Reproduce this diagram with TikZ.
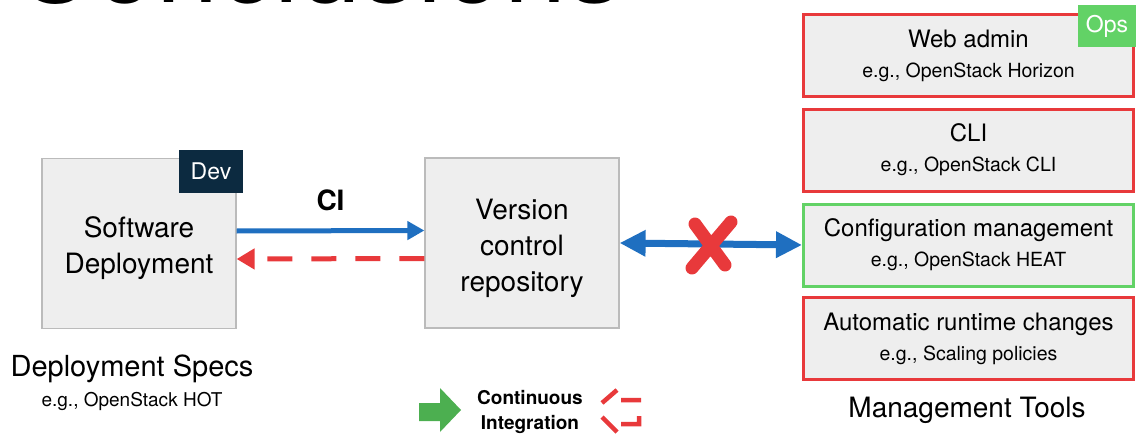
\documentclass[tikz,border=0pt]{standalone}
\usepackage{fontspec}
\setmainfont{TeX Gyre Heros}
\usetikzlibrary{arrows.meta,positioning}
\definecolor{boxgray}{HTML}{EEEEEE}
\definecolor{edgegray}{HTML}{BBBBBB}
\definecolor{arrowblue}{HTML}{1F6FC0}
\definecolor{markred}{HTML}{E8393B}
\definecolor{opsgreen}{HTML}{62D266}
\definecolor{devnavy}{HTML}{0C2A40}
\definecolor{legendgreen}{HTML}{4CAF50}
\newcommand\egline[1]{{\fontsize{19.5}{34}\selectfont e.g., #1}}

\begin{document}
\begin{tikzpicture}[x=1pt,y=-1pt,
  box/.style={draw=edgegray, line width=1.2pt, fill=boxgray, minimum width=194pt,
    minimum height=170pt},
  boxtext/.style={align=center, inner sep=0pt, font=\fontsize{28}{36}\selectfont},
  tool/.style={draw=#1, line width=3pt, fill=boxgray, minimum width=330pt,
    minimum height=82pt, align=center, inner sep=0pt, font=\fontsize{24}{34}\selectfont},
  tag/.style={fill=#1, text=white, inner sep=0pt, font=\fontsize{23}{23}\selectfont}]
  \useasboundingbox (0,0) rectangle (1138,436);
  \begin{scope}
    \clip (0,0) rectangle (1138,436);
    \node[anchor=base west, inner sep=0pt, font=\fontsize{112}{112}\selectfont] (title) at (13,2.5) {Conclusions};
  \end{scope}

  % development side
  \node[box] (sw) at (139,243.5) {};
  \node[boxtext] (swtext) at ([yshift=-5pt]sw.center) {Software\\Deployment};
  \node[tag=devnavy, minimum width=64pt, minimum height=43pt] (dev) at (211,171.5) {Dev};
  \node[box] (vcr) at (522,243) {};
  \node[boxtext] (vcrtext) at ([yshift=-5pt]vcr.center) {Version\\control\\repository};
  \node[font=\fontsize{29}{29}\selectfont] (specs) at (132,369) {Deployment Specs};
  \node[font=\fontsize{19}{19}\selectfont] (specseg) at (132,401) {e.g., OpenStack HOT};

  \draw[arrowblue, line width=5pt, -{Triangle[length=17pt,width=18pt]}]
    ([yshift=12.5pt]sw.east) -- node[above=14pt, black, font=\bfseries\fontsize{28}{28}\selectfont] (ci) {CI} ([yshift=12.5pt]vcr.west);
  \draw[markred, line width=5pt, dash pattern=on 25pt off 19pt, -{Triangle[length=18pt,width=20pt]}]
    ([yshift=-15.5pt]vcr.west) -- ([yshift=-15.5pt]sw.east);

  % operations side
  \node[tool=markred] (web) at (968.5,55.5) {\raisebox{-4pt}{Web admin}\\\egline{OpenStack Horizon}};
  \node[tool=markred] (cli) at (968.5,150) {\raisebox{-4pt}{CLI}\\\egline{OpenStack CLI}};
  \node[tool=opsgreen] (cfg) at (968.5,245) {\raisebox{-4pt}{Configuration management}\\\egline{OpenStack HEAT}};
  \node[tool=markred] (auto) at (968.5,338.5) {\raisebox{-4pt}{Automatic runtime changes}\\\egline{Scaling policies}};
  \node[tag=opsgreen, minimum width=58pt, minimum height=42pt] (ops) at (1107,26) {Ops};
  \node[font=\fontsize{28}{28}\selectfont] (mgmt) at (967,410) {Management Tools};

  \draw[arrowblue, line width=7pt, {Triangle[length=26pt,width=25pt]}-{Triangle[length=26pt,width=25pt]}]
    (vcr.east) -- (cfg.west);
  \coordinate (nox) at (709,244);
  \draw[markred, line width=13pt, line cap=round, shift={(nox)}]
    (-14,-20) -- (16,21) (22,-22) -- (-17,24);

  % legend
  \fill[legendgreen] (419,403) -- (440,403) -- (440,388) -- (461,410) -- (440,432)
    -- (440,421) -- (419,421) -- cycle;
  \node[align=center, font=\bfseries\fontsize{19}{25}\selectfont] (legend) at (530,411.5) {Continuous\\Integration};
  \draw[markred, line width=4.5pt] (602,403) -- (617,390) (621,400) -- (641,400)
    (602,417) -- (617,432) (621,424) -- (639,424) -- (639,416);
\end{tikzpicture}
\end{document}
